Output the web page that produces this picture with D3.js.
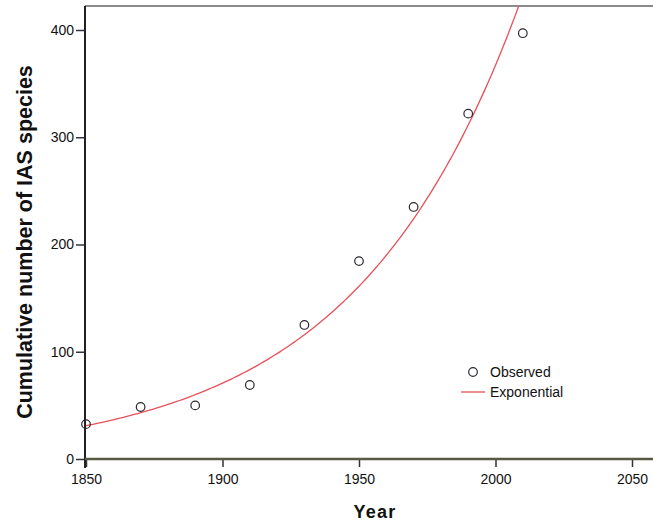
<!DOCTYPE html>
<html lang="en">
<head>
  <meta charset="utf-8">
  <title>Cumulative IAS species</title>
  <script src="https://d3js.org/d3.v7.min.js"></script>
  <style>
    body { margin: 0; background: #fff; }
    text { font-family: "Liberation Sans", Arial, sans-serif; }
  </style>
</head>
<body>
<div id="chart"></div>
<script>
var years = [1850, 1870, 1890, 1910, 1930, 1950, 1970, 1990, 2010];
var observed = [32.5, 48.5, 50, 69, 125, 184.5, 235, 322, 397];
var xTicks = [1850, 1900, 1950, 2000, 2050];
var yTicks = [0, 100, 200, 300, 400];

var width = 653, height = 525;

var svg = d3.select("#chart").append("svg")
  .attr("width", width)
  .attr("height", height);

var x = d3.scaleLinear().domain([1850, 2050]).range([86, 632]);
var y = d3.scaleLinear().domain([0, 400]).range([459, 30]);

// exponential fit, log-linear least squares on the observed points (like SPSS curve estimation)
var lx = years.map(function(d) { return d - 1850; });
var ly = observed.map(function(d) { return Math.log(d); });
var mx = d3.mean(lx), my = d3.mean(ly);
var b = d3.sum(lx, function(d, i) { return (d - mx) * (ly[i] - my); }) / d3.sum(lx, function(d) { return (d - mx) * (d - mx); });
var a = Math.exp(my - b * mx);
var fitYears = d3.range(1850, 2021, 1);
var fit = fitYears.map(function(t) { return {year: t, value: a * Math.exp(b * (t - 1850))}; });

svg.append("clipPath").attr("id", "plotclip")
  .append("rect").attr("x", 86).attr("y", 6).attr("width", width - 86).attr("height", 459 - 6);

// top frame
svg.append("line")
  .attr("x1", 85).attr("x2", width)
  .attr("y1", 6).attr("y2", 6)
  .attr("stroke", "#8a8a90").attr("stroke-width", 2);

// fitted curve
svg.append("path")
  .datum(fit)
  .attr("clip-path", "url(#plotclip)")
  .attr("fill", "none")
  .attr("stroke", "#e8505a")
  .attr("stroke-width", 1.3)
  .attr("d", d3.line()
    .x(function(d) { return x(d.year); })
    .y(function(d) { return y(d.value); }));

// observed points
svg.selectAll("circle.obs")
  .data(years)
  .enter().append("circle")
  .attr("class", "obs")
  .attr("cx", function(d) { return x(d); })
  .attr("cy", function(d, i) { return y(observed[i]); })
  .attr("r", 4.3)
  .attr("fill", "none")
  .attr("stroke", "#2a2a30")
  .attr("stroke-width", 1.2);

// y axis
var yAxis = svg.append("g")
  .attr("transform", "translate(85,0)")
  .call(d3.axisLeft(y).tickValues(yTicks).tickSize(9).tickSizeOuter(0));
yAxis.select(".domain").remove();
yAxis.append("line")
  .attr("x1", 0).attr("x2", 0).attr("y1", 6).attr("y2", 468)
  .attr("stroke", "#222").attr("stroke-width", 2);
yAxis.selectAll(".tick line").attr("stroke", "#334").attr("stroke-width", 1.5);
yAxis.selectAll(".tick text").attr("font-size", 14).attr("fill", "#111").attr("x", -11);

// x axis
var xAxis = svg.append("g")
  .attr("transform", "translate(0,459)")
  .call(d3.axisBottom(x).tickValues(xTicks).tickFormat(d3.format("d")).tickSize(8).tickSizeOuter(0));
xAxis.select(".domain").remove();
xAxis.append("line")
  .attr("x1", 85).attr("x2", width).attr("y1", 0).attr("y2", 0)
  .attr("stroke", "#5a5a44").attr("stroke-width", 2.5);
xAxis.selectAll(".tick line").attr("stroke", "#333").attr("stroke-width", 1.5);
xAxis.selectAll(".tick text").attr("font-size", 14).attr("fill", "#111")
  .attr("y", 25).attr("dy", null);

// axis titles
svg.append("text")
  .attr("x", 375).attr("y", 518)
  .attr("text-anchor", "middle")
  .attr("font-size", 18).attr("font-weight", "bold").attr("fill", "#111")
  .attr("letter-spacing", 1.2)
  .text("Year");

svg.append("text")
  .attr("transform", "translate(32,242) rotate(-90)")
  .attr("text-anchor", "middle")
  .attr("font-size", 21.5).attr("font-weight", "bold").attr("fill", "#111")
  .text("Cumulative number of IAS species");

// legend
var legend = svg.append("g").attr("transform", "translate(473,372)");
legend.append("circle")
  .attr("cx", 0).attr("cy", 0).attr("r", 4.3)
  .attr("fill", "none").attr("stroke", "#2a2a30").attr("stroke-width", 1.2);
legend.append("text")
  .attr("x", 17).attr("y", 5)
  .attr("font-size", 14).attr("fill", "#111")
  .text("Observed");
legend.append("line")
  .attr("x1", -12).attr("x2", 12).attr("y1", 20).attr("y2", 20)
  .attr("stroke", "#e8505a").attr("stroke-width", 1.3);
legend.append("text")
  .attr("x", 17).attr("y", 25)
  .attr("font-size", 14).attr("fill", "#111")
  .text("Exponential");
</script>
</body>
</html>
